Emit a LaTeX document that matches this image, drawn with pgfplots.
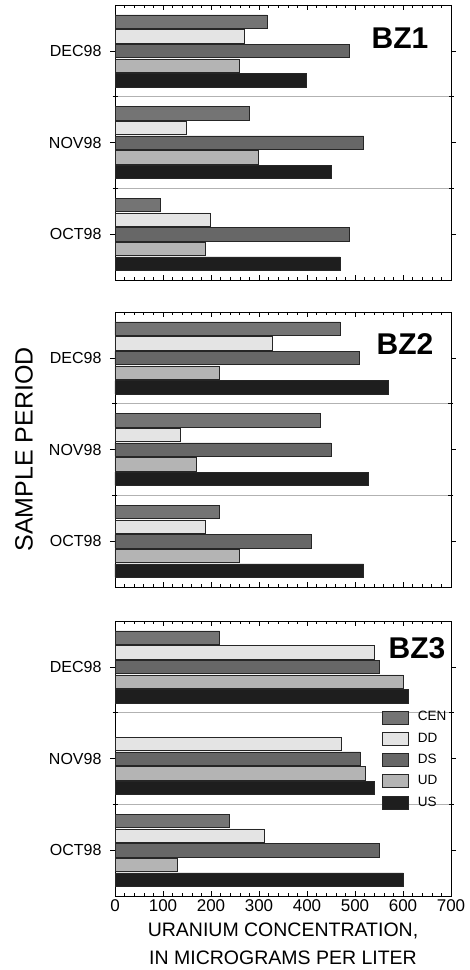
\documentclass[border=0pt]{standalone}
\usepackage{fontspec}
\setmainfont{Liberation Sans}
\usepackage{pgfplots}
\usepackage{pgfplotstable}
\pgfplotsset{compat=1.18}
\definecolor{cCEN}{HTML}{747474}
\definecolor{cDD}{HTML}{E4E4E4}
\definecolor{cDS}{HTML}{676767}
\definecolor{cUD}{HTML}{B4B4B4}
\definecolor{cUS}{HTML}{1E1E1E}

\pgfplotstableread{
y CEN DD DS UD US
0 95 198 488 189 469
1 279 148 518 298 450
2 317 269 488 258 399
}\bzone
\pgfplotstableread{
y CEN DD DS UD US
0 218 189 408 258 518
1 427 137 450 169 528
2 469 327 509 218 569
}\bztwo
\pgfplotstableread{
y CEN DD DS UD US
0 239 310 550 129 601
1 nan 471 511 522 540
2 218 540 550 601 611
}\bzthree

\pgfplotsset{
  panel/.style={
    scale only axis, width=336pt, height=275pt,
    xmin=0, xmax=700, ymin=-0.5, ymax=2.5,
    xtick={0,100,...,700}, minor x tick num=4,
    major tick length=5pt, minor tick length=3pt,
    tick align=inside,
    ytick={0,1,2}, yticklabels={OCT98,NOV98,DEC98},
    yticklabel style={font=\fontsize{16}{18}\selectfont, xshift=-5pt},
    xticklabel style={font=\fontsize{17}{19}\selectfont},
    /pgf/number format/assume math mode=true,
    extra y ticks={0.5,1.5}, extra y tick labels={},
    extra y tick style={grid=major, major grid style={black!30, line width=0.7pt}, tick align=center},
    axis line style={line width=0.8pt},
    every tick/.style={black, line width=0.6pt},
    xbar, bar width=0.145,
  },
  bCEN/.style={fill=cCEN, draw=black!85, line width=0.6pt, bar shift=0.32},
  bDD/.style={fill=cDD, draw=black!85, line width=0.6pt, bar shift=0.16},
  bDS/.style={fill=cDS, draw=black!85, line width=0.6pt, bar shift=0},
  bUD/.style={fill=cUD, draw=black!85, line width=0.6pt, bar shift=-0.16},
  bUS/.style={fill=cUS, draw=black!85, line width=0.6pt, bar shift=-0.32},
}

\begin{document}
\begin{tikzpicture}
\useasboundingbox (0,0) rectangle (470pt,970pt);
% Panel BZ1
\begin{axis}[panel, at={(115pt,690pt)}, anchor=south west, xticklabels={}]
\addplot[bCEN] table[x=CEN,y=y] {\bzone};
\addplot[bDD] table[x=DD,y=y] {\bzone};
\addplot[bDS] table[x=DS,y=y] {\bzone};
\addplot[bUD] table[x=UD,y=y] {\bzone};
\addplot[bUS] table[x=US,y=y] {\bzone};
\node[font=\fontsize{30}{32}\selectfont\bfseries] at (rel axis cs:0.848,0.88) {BZ1};
\end{axis}
% Panel BZ2
\begin{axis}[panel, at={(115pt,383pt)}, anchor=south west, xticklabels={},
  ylabel={SAMPLE PERIOD},
  ylabel style={font=\fontsize{25}{28}\selectfont, at={(axis description cs:-0.271,0.5)}, anchor=center}]
\addplot[bCEN] table[x=CEN,y=y] {\bztwo};
\addplot[bDD] table[x=DD,y=y] {\bztwo};
\addplot[bDS] table[x=DS,y=y] {\bztwo};
\addplot[bUD] table[x=UD,y=y] {\bztwo};
\addplot[bUS] table[x=US,y=y] {\bztwo};
\node[font=\fontsize{30}{32}\selectfont\bfseries] at (rel axis cs:0.863,0.883) {BZ2};
\end{axis}
% Panel BZ3
\begin{axis}[panel, at={(115pt,74pt)}, anchor=south west,
  xlabel={URANIUM CONCENTRATION,\\[1pt]IN MICROGRAMS PER LITER},
  xlabel style={font=\fontsize{19.5}{27}\selectfont, align=center, at={(axis description cs:0.5,0)}, anchor=north, inner sep=0pt, yshift=-27pt},
  legend image code/.code={\draw[#1] (0pt,-6.5pt) rectangle (26pt,6.5pt);},
  legend style={at={(rel axis cs:0.795,0.675)}, anchor=north west, draw=none, fill=none,
    inner sep=0pt, row sep=7.7pt, column sep=0pt,
    nodes={inner sep=0pt, text height=10pt, text depth=3pt, font=\fontsize{13.5}{15}\selectfont}},
  legend cell align=left]
\addplot[bCEN] table[x=CEN,y=y] {\bzthree};
\addlegendentry{\hspace{9pt}CEN}
\addplot[bDD] table[x=DD,y=y] {\bzthree};
\addlegendentry{\hspace{9pt}DD}
\addplot[bDS] table[x=DS,y=y] {\bzthree};
\addlegendentry{\hspace{9pt}DS}
\addplot[bUD] table[x=UD,y=y] {\bzthree};
\addlegendentry{\hspace{9pt}UD}
\addplot[bUS] table[x=US,y=y] {\bzthree};
\addlegendentry{\hspace{9pt}US}
\node[font=\fontsize{30}{32}\selectfont\bfseries] at (rel axis cs:0.899,0.902) {BZ3};
\end{axis}
\end{tikzpicture}
\end{document}
